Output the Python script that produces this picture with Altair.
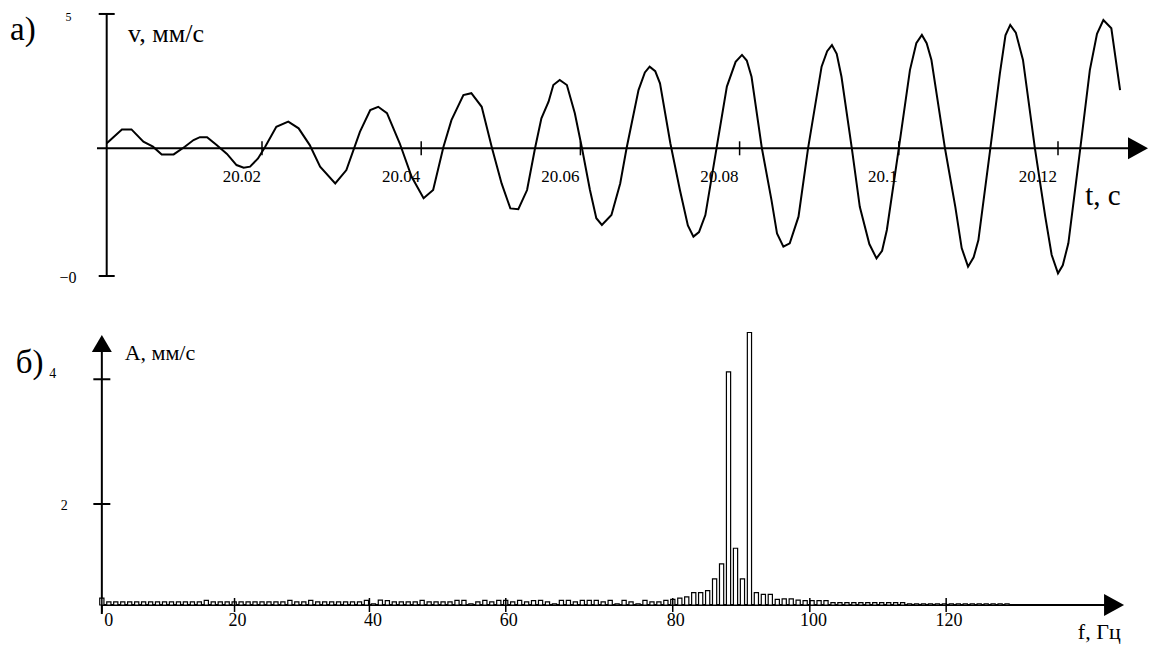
import altair as alt
import pandas as pd

# ---------------- data: panel a) velocity vs time ----------------
T = [20.0005, 20.0024, 20.0036, 20.0051, 20.0063, 20.0074, 20.0089, 20.0103, 20.0114, 20.0122,
     20.0131, 20.0143, 20.0156, 20.0168, 20.0177, 20.0185, 20.0195, 20.0204, 20.0218, 20.0233,
     20.0246, 20.0260, 20.0273, 20.0292, 20.0306, 20.0323, 20.0336, 20.0346, 20.0357, 20.0373,
     20.0388, 20.0403, 20.0415, 20.0428, 20.0438, 20.0453, 20.0463, 20.0476, 20.0489, 20.0501,
     20.0512, 20.0522, 20.0533, 20.0543, 20.0551, 20.0560, 20.0566, 20.0574, 20.0583, 20.0593,
     20.0602, 20.0612, 20.0620, 20.0627, 20.0639, 20.0650, 20.0658, 20.0673, 20.0681, 20.0687,
     20.0694, 20.0700, 20.0713, 20.0725, 20.0735, 20.0742, 20.0749, 20.0757, 20.0771, 20.0784,
     20.0795, 20.0803, 20.0809, 20.0815, 20.0828, 20.0840, 20.0847, 20.0855, 20.0863, 20.0874,
     20.0886, 20.0903, 20.0910, 20.0916, 20.0922, 20.0928, 20.0941, 20.0951, 20.0963, 20.0972,
     20.0979, 20.0985, 20.1000, 20.1014, 20.1022, 20.1029, 20.1035, 20.1041, 20.1058, 20.1071,
     20.1079, 20.1087, 20.1094, 20.1100, 20.1115, 20.1127, 20.1134, 20.1140, 20.1147, 20.1156,
     20.1171, 20.1184, 20.1192, 20.1200, 20.1206, 20.1213, 20.1228, 20.1240, 20.1249, 20.1257,
     20.1267, 20.1278]
V = [0.19, 0.71, 0.71, 0.25, 0.06, -0.23, -0.23, 0.06, 0.31, 0.42,
     0.42, 0.12, -0.21, -0.63, -0.73, -0.69, -0.38, 0.06, 0.81, 1.00,
     0.75, 0.12, -0.69, -1.32, -0.82, 0.62, 1.44, 1.56, 1.32, 0.19,
     -1.07, -1.88, -1.57, 0.06, 1.06, 2.00, 2.07, 1.56, 0.00, -1.32,
     -2.26, -2.29, -1.57, 0.00, 1.13, 1.75, 2.38, 2.57, 2.38, 1.32,
     0.00, -1.57, -2.63, -2.88, -2.51, -1.32, 0.00, 2.19, 2.85, 3.07,
     2.90, 2.44, 0.19, -1.57, -2.90, -3.32, -3.15, -2.51, 0.00, 2.32,
     3.25, 3.51, 3.30, 2.69, 0.00, -1.94, -3.20, -3.70, -3.57, -2.57,
     0.00, 3.07, 3.65, 3.88, 3.55, 2.69, 0.00, -2.20, -3.60, -4.14,
     -3.85, -3.07, 0.00, 2.94, 3.95, 4.26, 3.95, 3.32, 0.00, -2.20,
     -3.75, -4.45, -4.10, -3.45, 0.00, 2.82, 4.25, 4.64, 4.35, 3.32,
     0.00, -2.57, -4.00, -4.70, -4.40, -3.57, 0.00, 2.94, 4.30, 4.82,
     4.51, 2.19]

T_TICKS = [20.02, 20.04, 20.06, 20.08, 20.10, 20.12]
T_TICK_LABELS = ["20.02", "20.04", "20.06", "20.08", "20.1", "20.12"]

# ---------------- data: panel б) amplitude spectrum ----------------
FREQ = [0.00, 0.96, 1.91, 2.87, 3.82, 4.78, 5.73, 6.69, 7.64, 8.60,
        9.55, 10.51, 11.46, 12.42, 13.37, 14.33, 15.28, 16.24, 17.19, 18.15,
        19.10, 20.06, 21.01, 21.97, 22.92, 23.88, 24.83, 25.79, 26.74, 27.70,
        28.65, 29.61, 30.56, 31.52, 32.47, 33.43, 34.38, 35.34, 36.29, 37.25,
        38.20, 39.16, 40.11, 41.07, 42.02, 42.98, 43.93, 44.89, 45.84, 46.80,
        47.75, 48.71, 49.66, 50.62, 51.57, 52.53, 53.48, 54.44, 55.39, 56.35,
        57.30, 58.26, 59.21, 60.17, 61.12, 62.08, 63.03, 63.99, 64.94, 65.90,
        66.85, 67.81, 68.76, 69.72, 70.67, 71.63, 72.58, 73.54, 74.49, 75.45,
        76.40, 77.36, 78.31, 79.27, 80.22, 81.18, 82.13, 83.09, 84.04, 85.00,
        85.95, 86.91, 87.86, 88.82, 89.77, 90.73, 91.68, 92.64, 93.59, 94.55,
        95.50, 96.46, 97.41, 98.37, 99.32, 100.28, 101.23, 102.19, 103.14, 104.10,
        105.05, 106.01, 106.96, 107.92, 108.87, 109.83, 110.78, 111.74, 112.69, 113.65,
        114.60, 115.56, 116.51, 117.47, 118.42, 119.38, 120.33, 121.29, 122.24, 123.20,
        124.15]
AMP = [0.49, 0.43, 0.43, 0.43, 0.43, 0.43, 0.43, 0.43, 0.43, 0.43,
       0.43, 0.43, 0.43, 0.43, 0.43, 0.455, 0.43, 0.43, 0.43, 0.43,
       0.43, 0.43, 0.43, 0.43, 0.43, 0.43, 0.43, 0.455, 0.43, 0.43,
       0.455, 0.43, 0.43, 0.43, 0.43, 0.43, 0.43, 0.43, 0.455, 0.40,
       0.46, 0.45, 0.43, 0.43, 0.43, 0.43, 0.455, 0.43, 0.43, 0.43,
       0.43, 0.455, 0.455, 0.40, 0.43, 0.455, 0.43, 0.455, 0.455, 0.43,
       0.455, 0.43, 0.45, 0.455, 0.43, 0.40, 0.455, 0.455, 0.43, 0.455,
       0.455, 0.455, 0.43, 0.455, 0.40, 0.455, 0.43, 0.40, 0.455, 0.43,
       0.43, 0.455, 0.47, 0.49, 0.51, 0.58, 0.58, 0.61, 0.80, 1.04,
       4.12, 1.29, 0.80, 4.75, 0.58, 0.55, 0.55, 0.47, 0.48, 0.48,
       0.46, 0.45, 0.45, 0.45, 0.45, 0.42, 0.42, 0.42, 0.42, 0.42,
       0.42, 0.42, 0.42, 0.42, 0.42, 0.42, 0.40, 0.40, 0.40, 0.40,
       0.40, 0.40, 0.40, 0.40, 0.40, 0.40, 0.40, 0.40, 0.40, 0.40,
       0.40]
A_BASE = 0.38          # level of the frequency axis

# frequency-axis tick marks and labels, where the picture shows them
F_TICK_POS = [0.0, 18.2, 36.7, 55.4, 78.3, 97.1, 115.8]
F_LABEL_POS = [0.95, 18.6, 37.2, 55.8, 78.7, 97.6, 116.2]
F_TICK_LABELS = ["0", "20", "40", "60", "80", "100", "120"]
A_TICKS = [4, 2]
A_TICK_LABELS = ["4", "2"]

FONT = "Liberation Serif"
BLACK = "#000000"
RIGHT_ARROW = "M 0 0 L -2 -1.1 L -2 1.1 Z"
UP_ARROW = "M 0 0 L -1 1.7 L 1 1.7 Z"

# ---------------- panel a) ----------------
xs_t = alt.Scale(domain=[19.9971357, 20.1315578], nice=False, zero=False)
ys_v = alt.Scale(domain=[-5.139, 5.199], range=[275, 0], nice=False, zero=False)


def X_t(field="t"):
    return alt.X(f"{field}:Q", scale=xs_t, axis=None)


def Y_v(field="v"):
    return alt.Y(f"{field}:Q", scale=ys_v, axis=None)


curve = alt.Chart(pd.DataFrame({"t": T, "v": V})).mark_line(
    color=BLACK, strokeWidth=2
).encode(x=X_t(), y=Y_v())

t_axis = alt.Chart(pd.DataFrame({"t": [19.99927], "t2": [20.1300], "v": [0.0]})).mark_rule(
    color=BLACK, strokeWidth=2
).encode(x=X_t(), x2="t2:Q", y=Y_v())

t_arrow = alt.Chart(pd.DataFrame({"t": [20.13131], "v": [0.0]})).mark_point(
    shape=RIGHT_ARROW, size=400, filled=True, color=BLACK, opacity=1
).encode(x=X_t(), y=Y_v())

v_axis = alt.Chart(pd.DataFrame({"t": [20.00049], "v": [-4.80], "v2": [5.05]})).mark_rule(
    color=BLACK, strokeWidth=2
).encode(x=X_t(), y=Y_v(), y2="v2:Q")

v_ticks = alt.Chart(pd.DataFrame({"t": [20.00049, 20.00049], "v": [5.05, -4.80]})).mark_tick(
    orient="horizontal", size=16, thickness=2, color=BLACK, opacity=1
).encode(x=X_t(), y=Y_v())

t_ticks = alt.Chart(pd.DataFrame({"t": T_TICKS, "v": [0.0] * len(T_TICKS)})).mark_tick(
    orient="vertical", size=14, thickness=1.5, color=BLACK, opacity=1
).encode(x=X_t(), y=Y_v())

t_labels = alt.Chart(pd.DataFrame({"t": T_TICKS, "v": [-1.08] * len(T_TICKS),
                                   "label": T_TICK_LABELS})).mark_text(
    font=FONT, fontSize=17, color=BLACK, align="right", baseline="middle", dx=-1
).encode(x=X_t(), y=Y_v(), text="label:N")


def top_text(t, v, text, size, align="center"):
    return alt.Chart(pd.DataFrame({"t": [t], "v": [v], "label": [text]})).mark_text(
        font=FONT, fontSize=size, color=BLACK, align=align, baseline="middle"
    ).encode(x=X_t(), y=Y_v(), text="label:N")


top = alt.layer(
    curve, t_axis, t_arrow, v_axis, v_ticks, t_ticks, t_labels,
    top_text(19.98834, 4.45, "а)", 33, align="left"),
    top_text(19.99569, 4.92, "5", 12),
    top_text(19.99563, -4.86, "−0", 16),
    top_text(20.00317, 4.30, "v, мм/с", 26, align="left"),
    top_text(20.12565, -1.79, "t, c", 29),
)

# ---------------- panel б) ----------------
xs_f = alt.Scale(domain=[-2.3098, 143.071], nice=False, zero=False)
ys_a = alt.Scale(domain=[0.236, 4.79], range=[604, 320], nice=False, zero=False)


def X_f(field="f"):
    return alt.X(f"{field}:Q", scale=xs_f, axis=None)


def Y_a(field="a"):
    return alt.Y(f"{field}:Q", scale=ys_a, axis=None)


f_axis = alt.Chart(pd.DataFrame({"f": [0.0], "f2": [139.0], "a": [A_BASE]})).mark_rule(
    color=BLACK, strokeWidth=2
).encode(x=X_f(), x2="f2:Q", y=Y_a())

f_arrow = alt.Chart(pd.DataFrame({"f": [140.2], "a": [A_BASE]})).mark_point(
    shape=RIGHT_ARROW, size=400, filled=True, color=BLACK, opacity=1
).encode(x=X_f(), y=Y_a())

a_axis = alt.Chart(pd.DataFrame({"f": [0.0], "a": [0.236], "a2": [4.6]})).mark_rule(
    color=BLACK, strokeWidth=2
).encode(x=X_f(), y=Y_a(), y2="a2:Q")

a_arrow = alt.Chart(pd.DataFrame({"f": [0.0], "a": [4.71]})).mark_point(
    shape=UP_ARROW, size=400, filled=True, color=BLACK, opacity=1
).encode(x=X_f(), y=Y_a())

bars = alt.Chart(pd.DataFrame({"f": FREQ, "a": AMP, "a2": [A_BASE] * len(AMP)})).mark_bar(
    size=4.2, fill="#ffffff", stroke=BLACK, strokeWidth=1.2, opacity=1
).encode(x=X_f(), y=Y_a(), y2="a2:Q")

a_ticks = alt.Chart(pd.DataFrame({"f": [0.0] * len(A_TICKS), "a": A_TICKS})).mark_tick(
    orient="horizontal", size=17, thickness=2, color=BLACK, opacity=1
).encode(x=X_f(), y=Y_a())

f_ticks = alt.Chart(pd.DataFrame({"f": F_TICK_POS, "a": [A_BASE] * len(F_TICK_POS)})).mark_tick(
    orient="vertical", size=14, thickness=1.5, color=BLACK, opacity=1
).encode(x=X_f(), y=Y_a())

f_labels = alt.Chart(pd.DataFrame({"f": F_LABEL_POS, "a": [0.1235] * len(F_LABEL_POS),
                                   "label": F_TICK_LABELS})).mark_text(
    font=FONT, fontSize=18, color=BLACK, align="center", baseline="middle"
).encode(x=X_f(), y=Y_a(), text="label:N")


def bot_text(f, a, text, size, align="center"):
    return alt.Chart(pd.DataFrame({"f": [f], "a": [a], "label": [text]})).mark_text(
        font=FONT, fontSize=size, color=BLACK, align=align, baseline="middle"
    ).encode(x=X_f(), y=Y_a(), text="label:N")


bottom = alt.layer(
    f_axis, a_axis, bars, f_arrow, a_arrow, a_ticks, f_ticks, f_labels,
    bot_text(-11.82, 4.26, "б)", 33, align="left"),
    bot_text(-6.73, 4.085, A_TICK_LABELS[0], 14),
    bot_text(-5.16, 1.97, A_TICK_LABELS[1], 14),
    bot_text(3.125, 4.414, "A, мм/с", 22, align="left"),
    bot_text(136.8, -0.06, "f, Гц", 22),
)

chart = alt.layer(top, bottom).resolve_scale(
    x="independent", y="independent"
).properties(
    width=1070,
    height=604,
    padding={"left": 80, "top": 10, "right": 10, "bottom": 32},
    autosize="none",
    background="#ffffff",
).configure_view(stroke=None)

chart.save("out.html", embed_options={"renderer": "svg", "actions": False})
